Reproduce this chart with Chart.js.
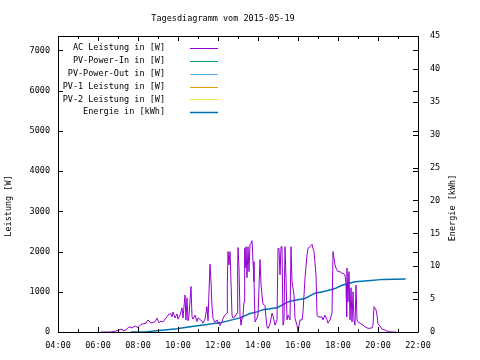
<!DOCTYPE html>
<html><head><meta charset="utf-8">
<script src="https://cdn.jsdelivr.net/npm/chart.js@4/dist/chart.umd.min.js"></script>
<style>html,body{margin:0;padding:0;background:#fff}#wrap{width:480px;height:360px}</style>
</head><body><div id="wrap"><canvas id="c" width="480" height="360"></canvas></div>
<script>
// ---- data ----
const chartTitle = 'Tagesdiagramm vom 2015-05-19';
const seriesLabels = ['AC Leistung in [W]', 'PV-Power-In in [W]', 'PV-Power-Out in [W]', 'PV-1 Leistung in [W]', 'PV-2 Leistung in [W]', 'Energie in [kWh]'];
const seriesColors = ['#9400d3', '#009e73', '#56b4e9', '#e69f00', '#f0e442', '#0072b2'];
const leftAxisTitle = 'Leistung [W]';
const rightAxisTitle = 'Energie [kWh]';
const xTickLabels = ['04:00', '06:00', '08:00', '10:00', '12:00', '14:00', '16:00', '18:00', '20:00', '22:00'];
const leftTickValues = [0, 1000, 2000, 3000, 4000, 5000, 6000, 7000];
const rightTickValues = [0, 5, 10, 15, 20, 25, 30, 35, 40, 45];

const acTimes = ['06:09','06:36','06:45','06:51','07:03','07:12','07:15','07:24','07:33','07:42','07:51','08:00','08:09','08:24','08:30','08:39','08:51','08:57',
'09:03','09:09','09:15','09:27','09:33','09:39','09:42','09:45','09:51','09:57','10:00','10:06','10:12','10:15','10:21','10:24','10:27','10:30','10:33','10:39','10:42','10:45','10:51','10:57',
'11:00','11:12','11:15','11:21','11:27','11:30','11:33','11:36','11:39','11:42','11:45','11:51','11:57','12:00','12:03','12:06','12:12','12:15','12:21','12:27','12:28','12:30','12:33','12:36','12:39','12:42','12:45','12:51','12:57','12:59',
'13:00','13:03','13:06','13:09','13:12','13:15','13:18','13:20','13:22','13:24','13:27','13:30','13:33','13:36','13:39','13:42','13:45','13:48','13:51','13:57',
'14:00','14:06','14:09','14:12','14:15','14:21','14:24','14:27','14:30','14:36','14:42','14:45','14:51','14:57',
'15:00','15:03','15:06','15:09','15:12','15:15','15:18','15:21','15:24','15:27','15:30','15:36','15:39','15:42','15:48','15:51','15:57',
'16:00','16:06','16:12','16:15','16:21','16:27','16:30','16:36','16:42','16:45','16:48','16:54','16:57',
'17:00','17:12','17:15','17:21','17:27','17:30','17:36','17:42','17:45','17:51','17:54',
'18:00','18:06','18:12','18:15','18:21','18:24','18:26','18:27','18:30','18:33','18:36','18:39','18:42','18:45','18:48','18:51','18:54','18:57',
'19:00','19:12','19:21','19:30','19:42','19:45','19:48','19:54','19:57','20:00','20:06','20:12','20:21','20:30','20:42','20:54'];
const acWatts = [0,0,10,20,50,75,30,50,130,100,150,110,190,220,300,220,255,345,
230,270,250,380,450,450,380,500,350,450,320,420,600,350,920,300,850,280,420,1130,380,320,420,260,
350,270,220,320,630,280,1000,1685,1250,630,340,240,300,200,250,160,250,340,420,470,1200,2000,1670,2000,1250,420,350,380,470,1590,
2100,1600,420,170,350,420,750,2080,1600,2120,1350,2120,1500,2170,2210,2270,1750,1250,250,350,
420,1800,1200,900,700,650,350,130,90,200,470,400,170,300,
2080,2080,1420,2120,2120,170,300,2120,1340,300,420,300,2120,1250,920,340,170,
10,300,300,500,1340,1920,2080,2120,2180,2080,2000,1420,420,
380,370,300,420,300,220,300,470,2000,1670,1590,
1500,1500,1460,1460,1420,1170,380,1590,750,1500,300,1100,250,1000,300,170,1170,300,
250,190,130,90,100,170,630,550,420,190,150,70,50,10,0,0];

const energyTimes = ['07:39','08:27','08:57','09:57','10:36','11:27','12:15','13:06','13:36','14:00','14:15','14:57','15:27','15:42','16:21','16:51','17:21','17:51','18:12','18:51','19:30','20:15','21:23'];
const energyKWh = [0,0.05,0.2,0.5,0.8,1.15,1.5,2.15,2.8,3.1,3.4,3.7,4.5,4.75,5.1,5.9,6.2,6.6,7.1,7.65,7.8,8.0,8.05];

// ---- helpers ----
function toMin(t) { const p = t.split(':'); return (+p[0]) * 60 + (+p[1]); }
function pts(times, vals) { return times.map((t, i) => ({ x: toMin(t), y: vals[i] })); }

const FONT = '"DejaVu Sans Mono", monospace';
const FS = 8.5;
const lineWidths = [1, 1, 1, 1, 1, 1.5];

const datasets = [
  { label: seriesLabels[0], data: pts(acTimes, acWatts), yAxisID: 'y' },
  { label: seriesLabels[1], data: [], yAxisID: 'y' },
  { label: seriesLabels[2], data: [], yAxisID: 'y' },
  { label: seriesLabels[3], data: [], yAxisID: 'y' },
  { label: seriesLabels[4], data: [], yAxisID: 'y' },
  { label: seriesLabels[5], data: pts(energyTimes, energyKWh), yAxisID: 'y2' }
].map((d, i) => Object.assign(d, { borderColor: seriesColors[i], backgroundColor: seriesColors[i], borderWidth: lineWidths[i], pointRadius: 0, tension: 0, fill: false }));

const framePlugin = {
  id: 'frame',
  afterDraw(chart) {
    const { ctx, chartArea: a, scales } = chart;
    const { x, y, y2 } = scales;
    ctx.save();
    ctx.strokeStyle = '#000';
    ctx.lineWidth = 1;
    ctx.beginPath();
    ctx.rect(a.left + 0.5, a.top + 0.5, a.right - a.left, a.bottom - a.top);
    y.ticks.forEach(t => {
      const py = Math.round(y.getPixelForValue(t.value)) + 0.5;
      ctx.moveTo(a.left, py); ctx.lineTo(a.left + 5, py);
      ctx.moveTo(a.right, py); ctx.lineTo(a.right - 5, py);
    });
    y2.ticks.forEach(t => {
      const py = Math.round(y2.getPixelForValue(t.value)) + 0.5;
      ctx.moveTo(a.right, py); ctx.lineTo(a.right - 5, py);
    });
    for (let m = x.min; m <= x.max; m += 60) {
      const px = Math.round(x.getPixelForValue(m)) + 0.5;
      const len = ((m - x.min) % 120 === 0) ? 5 : 3;
      ctx.moveTo(px, a.bottom); ctx.lineTo(px, a.bottom - len);
      ctx.moveTo(px, a.top); ctx.lineTo(px, a.top + len);
    }
    ctx.stroke();

    ctx.fillStyle = '#000';
    ctx.font = FS + 'px ' + FONT;
    ctx.textAlign = 'center';
    ctx.textBaseline = 'middle';
    ctx.fillText(chartTitle, 223, 19);
    ctx.save(); ctx.translate(9, 206); ctx.rotate(-Math.PI / 2); ctx.fillText(leftAxisTitle, 0, 0); ctx.restore();
    ctx.save(); ctx.translate(453, 208); ctx.rotate(-Math.PI / 2); ctx.fillText(rightAxisTitle, 0, 0); ctx.restore();

    chart.data.datasets.forEach((d, i) => {
      const ry = 48 + i * 12.85;
      ctx.textAlign = 'right';
      ctx.fillStyle = '#000';
      ctx.fillText(d.label, 165, ry);
      ctx.strokeStyle = d.borderColor;
      ctx.lineWidth = d.borderWidth;
      ctx.beginPath();
      ctx.moveTo(190, Math.round(ry) + 0.5); ctx.lineTo(218, Math.round(ry) + 0.5);
      ctx.stroke();
    });
    ctx.restore();
  }
};

new Chart(document.getElementById('c'), {
  type: 'line',
  data: { datasets },
  plugins: [framePlugin],
  options: {
    responsive: false,
    animation: false,
    devicePixelRatio: 1,
    layout: { padding: { top: 36 } },
    plugins: {
      legend: { display: false },
      tooltip: { enabled: false },
      title: { display: false }
    },
    scales: {
      x: {
        type: 'linear', min: 240, max: 1320,
        grid: { display: false }, border: { display: false },
        ticks: { stepSize: 120, color: '#000', padding: 1, maxRotation: 0, autoSkip: false, font: { family: FONT, size: FS },
          callback: (v, i) => xTickLabels[i] },
        afterFit: s => { s.height = 28; }
      },
      y: {
        position: 'left', min: 0, max: 7360,
        grid: { display: false }, border: { display: false },
        afterBuildTicks: s => { s.ticks = leftTickValues.map(v => ({ value: v })); },
        ticks: { color: '#000', padding: 0, font: { family: FONT, size: FS }, callback: v => String(v) },
        afterFit: s => { s.width = 58; }
      },
      y2: {
        position: 'right', min: 0, max: 45,
        grid: { display: false }, border: { display: false },
        afterBuildTicks: s => { s.ticks = rightTickValues.map(v => ({ value: v })); },
        ticks: { color: '#000', padding: 4, font: { family: FONT, size: FS }, callback: v => String(v) },
        afterFit: s => { s.width = 62; }
      }
    }
  }
});
</script>
</body></html>
